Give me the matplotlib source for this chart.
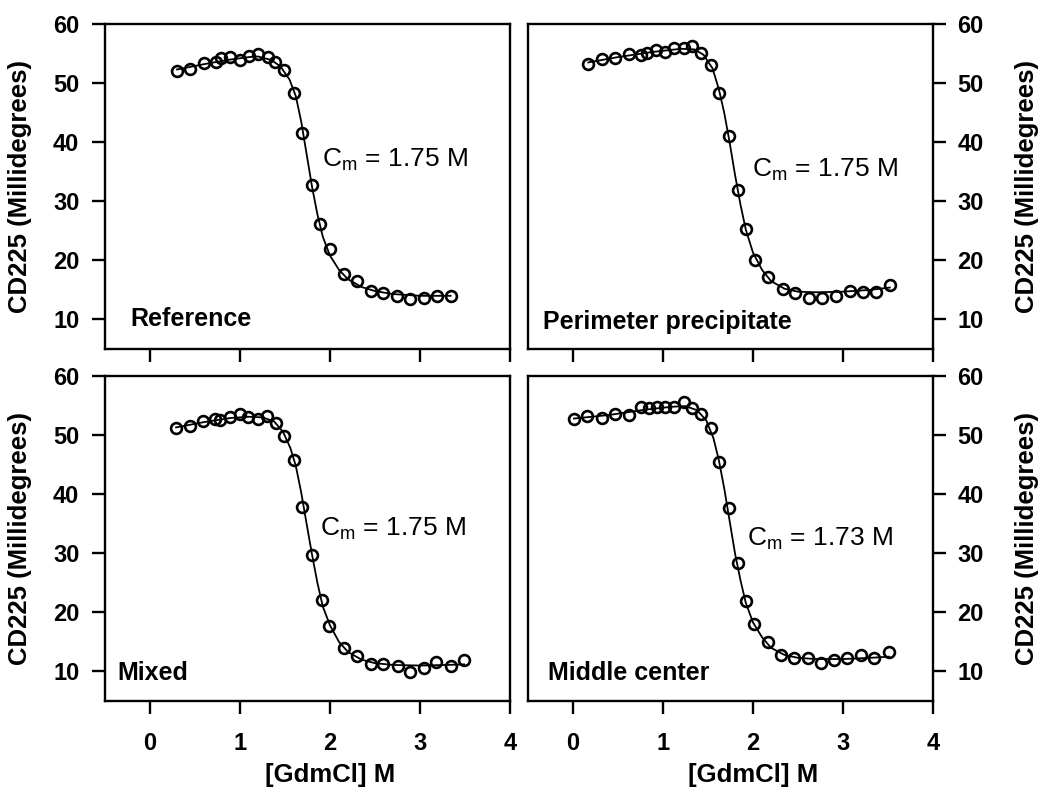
import numpy as np
import matplotlib
matplotlib.use("Agg")
import matplotlib.pyplot as plt

plt.rcParams['font.family'] = ['Liberation Sans', 'DejaVu Sans']
plt.rcParams['mathtext.fontset'] = 'custom'
plt.rcParams['mathtext.rm'] = 'Liberation Sans'
plt.rcParams['mathtext.it'] = 'Liberation Sans:italic'

# --- data ---
ref_x = [0.30, 0.44, 0.60, 0.73, 0.79, 0.89, 1.00, 1.10, 1.20, 1.31, 1.39, 1.49, 1.60,
         1.69, 1.80, 1.89, 2.00, 2.16, 2.30, 2.45, 2.59, 2.74, 2.89, 3.04, 3.19, 3.34]
ref_y = [52.0, 52.4, 53.4, 53.5, 54.2, 54.4, 53.9, 54.6, 54.9, 54.5, 53.6, 52.2, 48.4,
         41.5, 32.7, 26.1, 21.9, 17.7, 16.5, 14.8, 14.4, 14.0, 13.4, 13.7, 14.0, 14.0]
ref_fit_x = [0.30, 0.60, 0.90, 1.10, 1.20, 1.35, 1.45, 1.55, 1.62, 1.68, 1.74, 1.80, 1.86,
             1.92, 2.00, 2.10, 2.20, 2.35, 2.50, 2.70, 3.00, 3.34]
ref_fit_y = [52.3, 53.2, 54.0, 54.4, 54.5, 53.9, 52.8, 50.6, 47.8, 43.5, 38.0, 32.5, 27.8,
             24.0, 20.8, 18.4, 16.8, 15.5, 14.8, 14.3, 14.0, 14.0]

per_x = [0.17, 0.32, 0.47, 0.62, 0.76, 0.82, 0.92, 1.02, 1.12, 1.23, 1.32, 1.42, 1.53, 1.62,
         1.73, 1.83, 1.92, 2.02, 2.17, 2.33, 2.47, 2.62, 2.77, 2.92, 3.08, 3.22, 3.37, 3.52]
per_y = [53.3, 54.0, 54.2, 54.9, 54.8, 55.1, 55.6, 55.3, 55.9, 55.9, 56.3, 55.1, 53.1, 48.4,
         41.0, 31.9, 25.3, 20.1, 17.2, 15.2, 14.5, 13.7, 13.7, 14.0, 14.8, 14.6, 14.6, 15.9]
per_fit_x = [0.17, 0.50, 0.90, 1.20, 1.35, 1.45, 1.55, 1.62, 1.68, 1.74, 1.80, 1.86, 1.92,
             2.00, 2.10, 2.20, 2.35, 2.50, 2.70, 3.00, 3.30, 3.52]
per_fit_y = [53.5, 54.4, 55.3, 55.8, 55.7, 54.8, 52.5, 49.0, 45.0, 40.0, 34.5, 29.5, 25.2,
             21.3, 18.4, 16.5, 15.2, 14.7, 14.6, 14.7, 15.0, 15.4]

mix_x = [0.29, 0.44, 0.59, 0.72, 0.78, 0.89, 1.00, 1.09, 1.20, 1.30, 1.40, 1.49, 1.60, 1.69,
         1.80, 1.91, 1.99, 2.15, 2.30, 2.45, 2.59, 2.75, 2.89, 3.04, 3.18, 3.34, 3.49]
mix_y = [51.2, 51.6, 52.3, 52.8, 52.5, 53.0, 53.6, 53.0, 52.8, 53.2, 52.0, 49.9, 45.8, 37.9,
         29.7, 22.1, 17.7, 14.0, 12.6, 11.2, 11.2, 10.9, 9.9, 10.6, 11.6, 10.9, 11.9]
mix_fit_x = [0.29, 0.60, 0.90, 1.10, 1.25, 1.38, 1.48, 1.56, 1.62, 1.68, 1.74, 1.80, 1.86,
             1.92, 2.00, 2.10, 2.20, 2.35, 2.50, 2.70, 3.00, 3.30, 3.49]
mix_fit_y = [51.3, 52.2, 52.9, 53.1, 53.0, 52.3, 50.5, 47.8, 44.8, 40.3, 35.0, 29.8, 25.0,
             21.0, 17.8, 15.0, 13.3, 12.0, 11.4, 11.1, 11.0, 11.1, 11.2]

mid_x = [0.01, 0.16, 0.32, 0.47, 0.62, 0.76, 0.84, 0.93, 1.02, 1.12, 1.23, 1.32, 1.42, 1.53,
         1.62, 1.73, 1.83, 1.92, 2.01, 2.17, 2.31, 2.46, 2.61, 2.76, 2.90, 3.05, 3.20, 3.35, 3.51]
mid_y = [52.7, 53.2, 52.9, 53.6, 53.4, 54.7, 54.6, 54.8, 54.7, 54.7, 55.6, 54.5, 53.6, 51.2,
         45.5, 37.6, 28.3, 21.9, 18.1, 15.0, 12.8, 12.2, 12.3, 11.4, 11.9, 12.3, 12.8, 12.2, 13.3]
mid_fit_x = [0.01, 0.40, 0.80, 1.10, 1.25, 1.38, 1.48, 1.56, 1.62, 1.68, 1.74, 1.80, 1.86,
             1.92, 2.00, 2.10, 2.20, 2.35, 2.50, 2.70, 3.00, 3.30, 3.51]
mid_fit_y = [52.8, 53.4, 54.3, 54.8, 54.9, 54.2, 52.5, 49.5, 45.8, 41.0, 35.5, 30.0, 25.5,
             21.6, 18.3, 15.8, 14.0, 12.8, 12.3, 12.1, 12.1, 12.3, 12.5]

labels = ["Reference", "Perimeter precipitate", "Mixed", "Middle center"]
cm_texts = ["1.75", "1.75", "1.75", "1.73"]

panels = [
    (ref_x, ref_y, ref_fit_x, ref_fit_y),
    (per_x, per_y, per_fit_x, per_fit_y),
    (mix_x, mix_y, mix_fit_x, mix_fit_y),
    (mid_x, mid_y, mid_fit_x, mid_fit_y),
]

fig = plt.figure(figsize=(10.4, 7.9), dpi=100)
W, H = 1040., 790.
boxes = [
    [105 / W, 1 - 349 / H, 405 / W, 325 / H],
    [528 / W, 1 - 349 / H, 405 / W, 325 / H],
    [105 / W, 1 - 701 / H, 405 / W, 325 / H],
    [528 / W, 1 - 701 / H, 405 / W, 325 / H],
]
label_pos = [(-0.22, 10.0), (-0.33, 9.5), (-0.36, 9.8), (-0.28, 9.8)]
cm_pos = [(1.91, 37.0), (1.99, 35.3), (1.89, 34.2), (1.93, 32.4)]

for i, (x, y, fx, fy) in enumerate(panels):
    ax = fig.add_axes(boxes[i])
    ax.plot(fx, fy, '-', color='black', lw=1.3)
    ax.plot(x, y, 'o', mfc='none', mec='black', ms=7.8, mew=1.9)
    ax.set_xlim(-0.5, 4)
    ax.set_ylim(5, 60)
    right = i % 2 == 1
    if right:
        ax.yaxis.tick_right()
        ax.yaxis.set_label_position('right')
    ax.set_xticks([0, 1, 2, 3, 4])
    ax.set_yticks([10, 20, 30, 40, 50, 60])
    for s in ax.spines.values():
        s.set_linewidth(1.7)
    ax.tick_params(direction='out', length=9.5, width=1.7, labelsize=17)
    ax.tick_params(axis='x', pad=13)
    ax.tick_params(axis='y', pad=8 if right else 9)
    if i < 2:
        ax.set_xticklabels([])
    else:
        ax.set_xlabel("[GdmCl] M", fontsize=18.5, fontweight='bold')
        ax.xaxis.set_label_coords(0.556, -0.19)
    for t in ax.get_xticklabels() + ax.get_yticklabels():
        t.set_fontweight('bold')
    ax.set_ylabel("CD225 (Millidegrees)", fontsize=18.5, fontweight='bold')
    ax.yaxis.set_label_coords(1.202 if right else -0.18, 0.5)
    ax.text(label_pos[i][0], label_pos[i][1], labels[i], fontsize=18, fontweight='bold',
            ha='left', va='center')
    ax.text(cm_pos[i][0], cm_pos[i][1], r"C$_\mathrm{m}$ = " + cm_texts[i] + " M",
            fontsize=19, ha='left', va='center')

fig.savefig("out.png", dpi=100)
